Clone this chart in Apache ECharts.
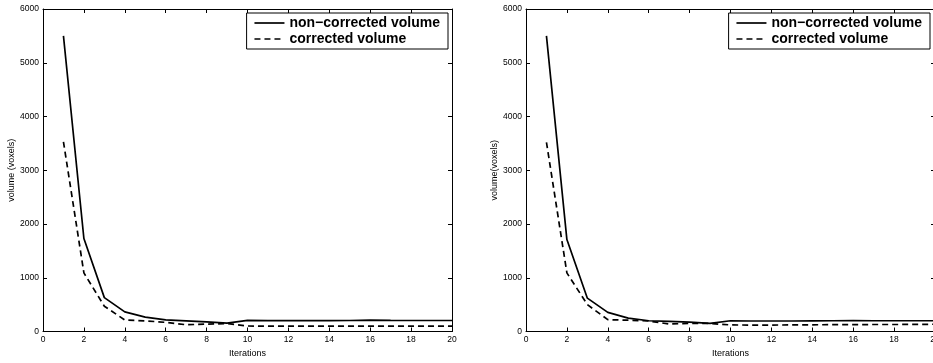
<!DOCTYPE html>
<html>
<head>
<meta charset="utf-8">
<script src="https://cdn.jsdelivr.net/npm/echarts@6/dist/echarts.min.js"></script>
<style>html,body{margin:0;padding:0;background:#fff}#c{width:933px;height:363px}</style>
</head>
<body>
<div id="c"></div>
<script>
const iterations = [1,2,3,4,5,6,7,8,9,10,11,12,13,14,15,16,17,18,19,20];
const leftNonCorrected = [5500,1730,630,365,268,215,198,180,156,208,202,205,202,204,205,210,206,205,205,205];
const leftCorrected    = [3530,1090,470,215,198,170,126,138,148,102,100,100,100,100,100,100,100,100,100,100];
const rightNonCorrected = [5500,1710,620,355,250,200,190,175,150,200,195,195,195,197,200,205,200,200,200,200];
const rightCorrected    = [3520,1090,500,220,210,195,140,150,150,122,120,120,122,125,127,128,130,130,132,135];
const xTicks = {min:0, max:20, interval:2};
const yTicks = {min:0, max:6000, interval:1000};
const seriesNames = ['non\u2212corrected volume', 'corrected volume'];
const yNames = ['volume (voxels)', 'volume(voxels)'];
const xName = 'Iterations';

const FONT = 'Liberation Sans, Arial, Helvetica, sans-serif';
const chart = echarts.init(document.getElementById('c'), null, {renderer:'canvas'});

const grids = [
  {left:43, top:9, width:409, height:322.5},
  {left:526, top:9, width:409, height:322.5}
];

const plain = v => String(v);
const xAxes = [], yAxes = [];
grids.forEach((g, i) => {
  xAxes.push({
    type:'value', gridIndex:i, position:'bottom', min:xTicks.min, max:xTicks.max, interval:xTicks.interval,
    name:xName, nameLocation:'middle', nameGap:11,
    nameTextStyle:{fontFamily:FONT, fontSize:9, color:'#000'},
    axisLine:{show:true, onZero:false, lineStyle:{color:'#000', width:1}},
    axisTick:{show:true, inside:true, length:4, lineStyle:{color:'#000'}},
    axisLabel:{fontFamily:FONT, fontSize:8.5, color:'#000', margin:4, formatter:plain},
    splitLine:{show:false}
  });
  xAxes.push({
    type:'value', gridIndex:i, position:'top', min:xTicks.min, max:xTicks.max, interval:xTicks.interval,
    axisLine:{show:true, onZero:false, lineStyle:{color:'#000', width:1}},
    axisTick:{show:true, inside:true, length:4, lineStyle:{color:'#000'}},
    axisLabel:{show:false}, splitLine:{show:false}
  });
  yAxes.push({
    type:'value', gridIndex:i, position:'left', min:yTicks.min, max:yTicks.max, interval:yTicks.interval,
    name:yNames[i], nameLocation:'middle', nameGap:19,
    nameTextStyle:{fontFamily:FONT, fontSize:9, color:'#000'},
    axisLine:{show:true, onZero:false, lineStyle:{color:'#000', width:1}},
    axisTick:{show:true, inside:true, length:4, lineStyle:{color:'#000'}},
    axisLabel:{fontFamily:FONT, fontSize:8.5, color:'#000', margin:4, formatter:plain},
    splitLine:{show:false}
  });
  yAxes.push({
    type:'value', gridIndex:i, position:'right', min:yTicks.min, max:yTicks.max, interval:yTicks.interval,
    axisLine:{show:true, onZero:false, lineStyle:{color:'#000', width:1}},
    axisTick:{show:true, inside:true, length:4, lineStyle:{color:'#000'}},
    axisLabel:{show:false}, splitLine:{show:false}
  });
});

function pairs(vals){ return iterations.map((x, k) => [x, vals[k]]); }
function mkSeries(name, vals, gi, dashed){
  return {
    type:'line', name:name, xAxisIndex:gi*2, yAxisIndex:gi*2, data:pairs(vals),
    symbol:'none', showSymbol:false, smooth:false, silent:true,
    lineStyle:{color:'#000', width:1.7, type: dashed ? [6,4] : 'solid'},
    itemStyle:{color:'#000'}
  };
}

function mkLegend(right){
  return {
    orient:'vertical', right:right, top:13,
    data:seriesNames,
    backgroundColor:'#fff', borderColor:'#000', borderWidth:1,
    padding:[3,8,3,7], itemGap:2, itemWidth:30, itemHeight:15,
    itemStyle:{opacity:0},
    lineStyle:{width:1.7},
    textStyle:{fontFamily:FONT, fontSize:14, fontWeight:'bold', color:'#000'},
    selectedMode:false
  };
}

chart.setOption({
  animation:false,
  backgroundColor:'#fff',
  grid:grids.map(g => Object.assign({show:false, containLabel:false, outerBoundsMode:'none'}, g)),
  xAxis:xAxes,
  yAxis:yAxes,
  legend:[mkLegend(485), mkLegend(3)],
  series:[
    mkSeries(seriesNames[0], leftNonCorrected, 0, false),
    mkSeries(seriesNames[1], leftCorrected, 0, true),
    mkSeries(seriesNames[0], rightNonCorrected, 1, false),
    mkSeries(seriesNames[1], rightCorrected, 1, true)
  ]
});
</script>
</body>
</html>
